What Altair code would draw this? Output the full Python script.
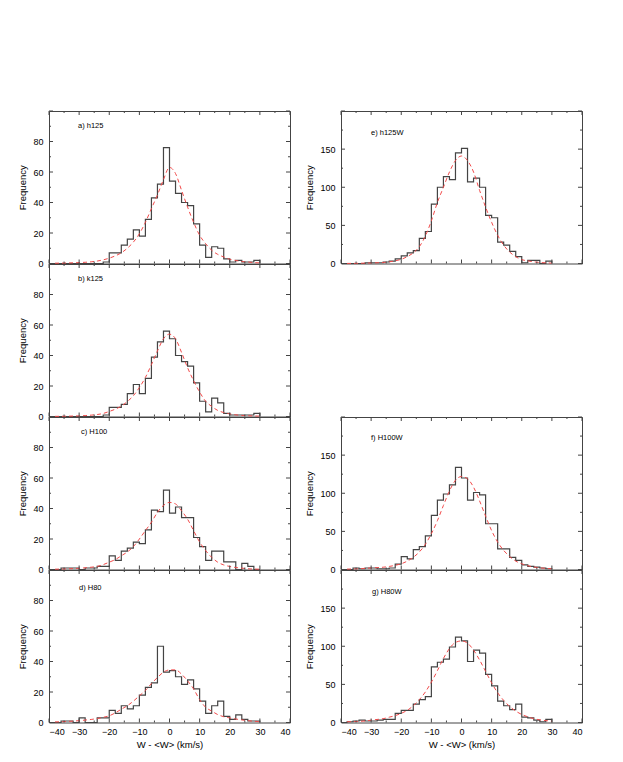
import altair as alt
import pandas as pd

# ---------------- data ----------------
bin_left = list(range(-40, 30, 2))          # left edges of 2 km/s bins, -40 .. 28
bin_end = 30
fit_x = list(range(-38, 32, 2))             # -38 .. 30

x_major = list(range(-40, 41, 10))
x_minor = list(range(-35, 40, 10))
y_major_left = [0, 20, 40, 60, 80, 100]
y_minor_left = [10, 30, 50, 70, 90]
y_labels_left = [0, 20, 40, 60, 80]
y_major_right = [0, 50, 100, 150, 200]
y_minor_right = [25, 75, 125, 175]
y_labels_right = [0, 50, 100, 150]

labels = ["a) h125", "b) k125", "c) H100", "d) H80", "e) h125W", "f) H100W", "g) H80W"]

counts_a = [0, 0, 0, 0, 0, 0, 0, 0, 0, 1, 7, 7, 12, 16, 22, 18, 29, 43, 52, 76,
            54, 46, 40, 38, 26, 12, 4, 11, 10, 3, 1, 2, 1, 1, 2]
counts_b = [0, 0, 0, 0, 0, 0, 0, 0, 0, 1, 6, 6, 8, 15, 21, 15, 25, 39, 49, 56,
            51, 40, 36, 33, 22, 10, 3, 12, 9, 2, 1, 1, 1, 1, 2]
counts_c = [0, 0, 1, 1, 1, 0, 1, 1, 2, 2, 9, 6, 12, 14, 18, 17, 26, 39, 38, 52,
            37, 41, 34, 34, 21, 15, 6, 12, 12, 5, 5, 0, 4, 2, 0]
counts_d = [0, 0, 1, 1, 0, 3, 0, 0, 3, 3, 8, 6, 11, 9, 11, 18, 23, 26, 50, 33,
            34, 30, 25, 28, 22, 14, 6, 11, 14, 4, 2, 5, 2, 1, 1]
counts_e = [0, 0, 0, 0, 1, 1, 1, 2, 3, 6, 10, 14, 17, 33, 42, 78, 100, 114, 110, 145,
            151, 107, 112, 100, 63, 60, 28, 24, 16, 9, 1, 4, 4, 0, 3]
counts_f = [0, 0, 2, 1, 2, 2, 1, 1, 2, 7, 17, 14, 26, 30, 44, 71, 91, 99, 111, 134,
            120, 91, 101, 98, 60, 60, 27, 27, 16, 12, 6, 4, 3, 2, 1]
counts_g = [0, 1, 2, 3, 2, 2, 3, 4, 4, 12, 16, 16, 24, 30, 34, 73, 79, 83, 99, 112,
            107, 80, 95, 91, 63, 48, 28, 22, 17, 24, 7, 6, 3, 1, 4]

fit_a = [0.2, 0.25, 0.35, 0.45, 0.6, 0.8, 1.1, 1.6, 2.4, 3.5, 5, 7, 10, 14, 19.5, 27, 36, 45, 55,
         63, 59, 48, 37, 27, 18.5, 13, 8.7, 6, 4.3, 2.8, 2, 1.3, 1, 0.6, 0.4]
fit_b = [0.1, 0.15, 0.2, 0.3, 0.4, 0.6, 0.9, 1.3, 2, 3.3, 4.8, 6.8, 9.8, 13.6, 19, 25.6, 34, 43, 51,
         54, 51, 42, 32, 23.5, 16, 10, 6.6, 4, 2.6, 1.7, 1.1, 0.7, 0.5, 0.35, 0.25]
fit_c = [0.2, 0.3, 0.4, 0.6, 0.8, 1.1, 1.5, 2, 3.2, 4.8, 6.5, 9, 11.5, 15, 20, 25.5, 31, 37.5, 42,
         44, 43, 38.5, 33, 25.5, 18, 12.4, 8, 4.8, 3, 2, 1.3, 0.9, 0.5, 0.3, 0.2]
fit_d = [0.4, 0.5, 0.7, 0.9, 1.2, 1.6, 2, 2.6, 3.4, 4.4, 6.3, 8.7, 11, 14, 17.5, 21, 25.5, 29.5, 33,
         34.5, 34.5, 31.7, 27.3, 22, 15, 10, 7.5, 5.2, 3.8, 3, 2.3, 1.7, 1.2, 0.8, 0.5]
fit_e = [0.1, 0.15, 0.3, 0.5, 0.7, 1, 1.4, 2.2, 3.5, 5.5, 9, 14, 22, 36, 56, 80, 100, 120, 135,
         141, 135, 120, 96, 74, 54, 37, 24, 15, 9, 5, 3.5, 2.2, 1.3, 0.9, 0.5]
fit_f = [0.5, 0.7, 1, 1.5, 2, 2.5, 3, 4, 5.5, 7.5, 11, 16, 23, 33, 47, 64, 84, 103, 117,
         122, 119, 108, 90, 70, 51, 36, 25, 17, 11, 7.5, 5, 3.3, 2.2, 1.5, 1]
fit_g = [1, 1.2, 1.5, 2, 3, 4, 5, 7, 9, 12, 16, 22, 30, 40, 53, 68, 84, 97, 105,
         107, 104, 95, 82, 67, 52, 39, 29, 21, 15, 10.5, 7.5, 5, 3.5, 2.5, 1.7]

# ---------------- style ----------------
W, H = 241, 152.5
FONT = "Liberation Sans"
FRAME = "#444444"
HIST = "#444444"
RED = "#f24a4a"


def panel(counts, fit, label, ymax, ymaj, ymin, ylab, show_x, ldx, ldy):
    xs = alt.Scale(domain=[-40, 40], nice=False, zero=False)
    ys = alt.Scale(domain=[0, ymax], nice=False, zero=True)
    if show_x:
        xax = alt.Axis(values=x_major, title="W - <W> (km/s)", tickSize=0, domain=False,
                       grid=False, labelPadding=5, titlePadding=3, labelFontSize=9,
                       titleFontSize=9.5, titleFontWeight="normal", labelFont=FONT,
                       titleFont=FONT, labelColor="black", titleColor="black")
    else:
        xax = None
    yax = alt.Axis(values=ylab, title="Frequency", tickSize=0, domain=False, grid=False,
                   labelPadding=6, titlePadding=5, labelFontSize=9, titleFontSize=9.5,
                   titleFontWeight="normal", labelFont=FONT, titleFont=FONT,
                   labelColor="black", titleColor="black")
    X = alt.X("x:Q", scale=xs, axis=xax)
    Y = alt.Y("y:Q", scale=ys, axis=yax)

    hist_df = pd.DataFrame({"x": bin_left + [bin_end], "y": counts + [0]})
    fit_df = pd.DataFrame({"x": fit_x, "y": fit})
    xmaj = pd.DataFrame({"x": x_major})
    xmin = pd.DataFrame({"x": x_minor})
    ymj = pd.DataFrame({"y": ymaj})
    ymn = pd.DataFrame({"y": ymin})

    layers = [
        alt.Chart(hist_df).mark_line(interpolate="step-after", color=HIST, strokeWidth=1.2)
        .encode(x=X, y=Y),
        alt.Chart(fit_df).mark_line(color=RED, strokeDash=[4, 3], strokeWidth=1,
                                    interpolate="monotone").encode(x=X, y=Y),
        alt.Chart(xmaj).mark_rule(color=FRAME).encode(x=X, y=alt.value(H), y2=alt.value(H - 4)),
        alt.Chart(xmaj).mark_rule(color=FRAME).encode(x=X, y=alt.value(0), y2=alt.value(4)),
        alt.Chart(xmin).mark_rule(color=FRAME).encode(x=X, y=alt.value(H), y2=alt.value(H - 2)),
        alt.Chart(xmin).mark_rule(color=FRAME).encode(x=X, y=alt.value(0), y2=alt.value(2)),
        alt.Chart(ymj).mark_rule(color=FRAME).encode(y=Y, x=alt.value(0), x2=alt.value(4)),
        alt.Chart(ymj).mark_rule(color=FRAME).encode(y=Y, x=alt.value(W), x2=alt.value(W - 4)),
        alt.Chart(ymn).mark_rule(color=FRAME).encode(y=Y, x=alt.value(0), x2=alt.value(2)),
        alt.Chart(ymn).mark_rule(color=FRAME).encode(y=Y, x=alt.value(W), x2=alt.value(W - 2)),
        alt.Chart(pd.DataFrame({"t": [label]})).mark_text(
            align="left", baseline="middle", fontSize=7.5, font=FONT, color="black"
        ).encode(x=alt.value(ldx), y=alt.value(ldy), text="t:N"),
    ]
    return alt.layer(*layers).properties(width=W, height=H)


pa = panel(counts_a, fit_a, labels[0], 100, y_major_left, y_minor_left, y_labels_left, False, 29, 15)
pb = panel(counts_b, fit_b, labels[1], 100, y_major_left, y_minor_left, y_labels_left, False, 29, 15)
pc = panel(counts_c, fit_c, labels[2], 100, y_major_left, y_minor_left, y_labels_left, False, 32, 15)
pdd = panel(counts_d, fit_d, labels[3], 100, y_major_left, y_minor_left, y_labels_left, True, 30, 18)
pe = panel(counts_e, fit_e, labels[4], 200, y_major_right, y_minor_right, y_labels_right, False, 30, 22)
pf = panel(counts_f, fit_f, labels[5], 200, y_major_right, y_minor_right, y_labels_right, False, 30, 21)
pg = panel(counts_g, fit_g, labels[6], 200, y_major_right, y_minor_right, y_labels_right, True, 31, 22)

spacer = alt.Chart(pd.DataFrame({"x": [0], "y": [0]})).mark_point(opacity=0).encode(
    x=alt.X("x:Q", scale=alt.Scale(domain=[-40, 40], nice=False), axis=None),
    y=alt.Y("y:Q", scale=alt.Scale(domain=[0, 200], nice=False),
            axis=alt.Axis(values=y_labels_right, title="Frequency", tickSize=0, domain=False,
                          grid=False, labelPadding=6, titlePadding=5, labelFontSize=9,
                          titleFontSize=9.5, labelFont=FONT, titleFont=FONT,
                          labelColor="transparent", titleColor="transparent")),
).properties(width=W, height=H, view=alt.ViewBackground(stroke="transparent"))

left = alt.vconcat(pa, pb, pc, pdd, spacing=0, bounds="flush")
right = alt.vconcat(pe, spacer, pf, pg, spacing=0, bounds="flush")

chart = alt.hconcat(left, right, spacing=13).properties(
    padding={"left": 9, "top": 102, "right": 5, "bottom": 5},
    background="white",
).configure_view(stroke=FRAME, strokeWidth=1)

chart.save("out.html", embed_options={"renderer": "svg", "actions": False})
